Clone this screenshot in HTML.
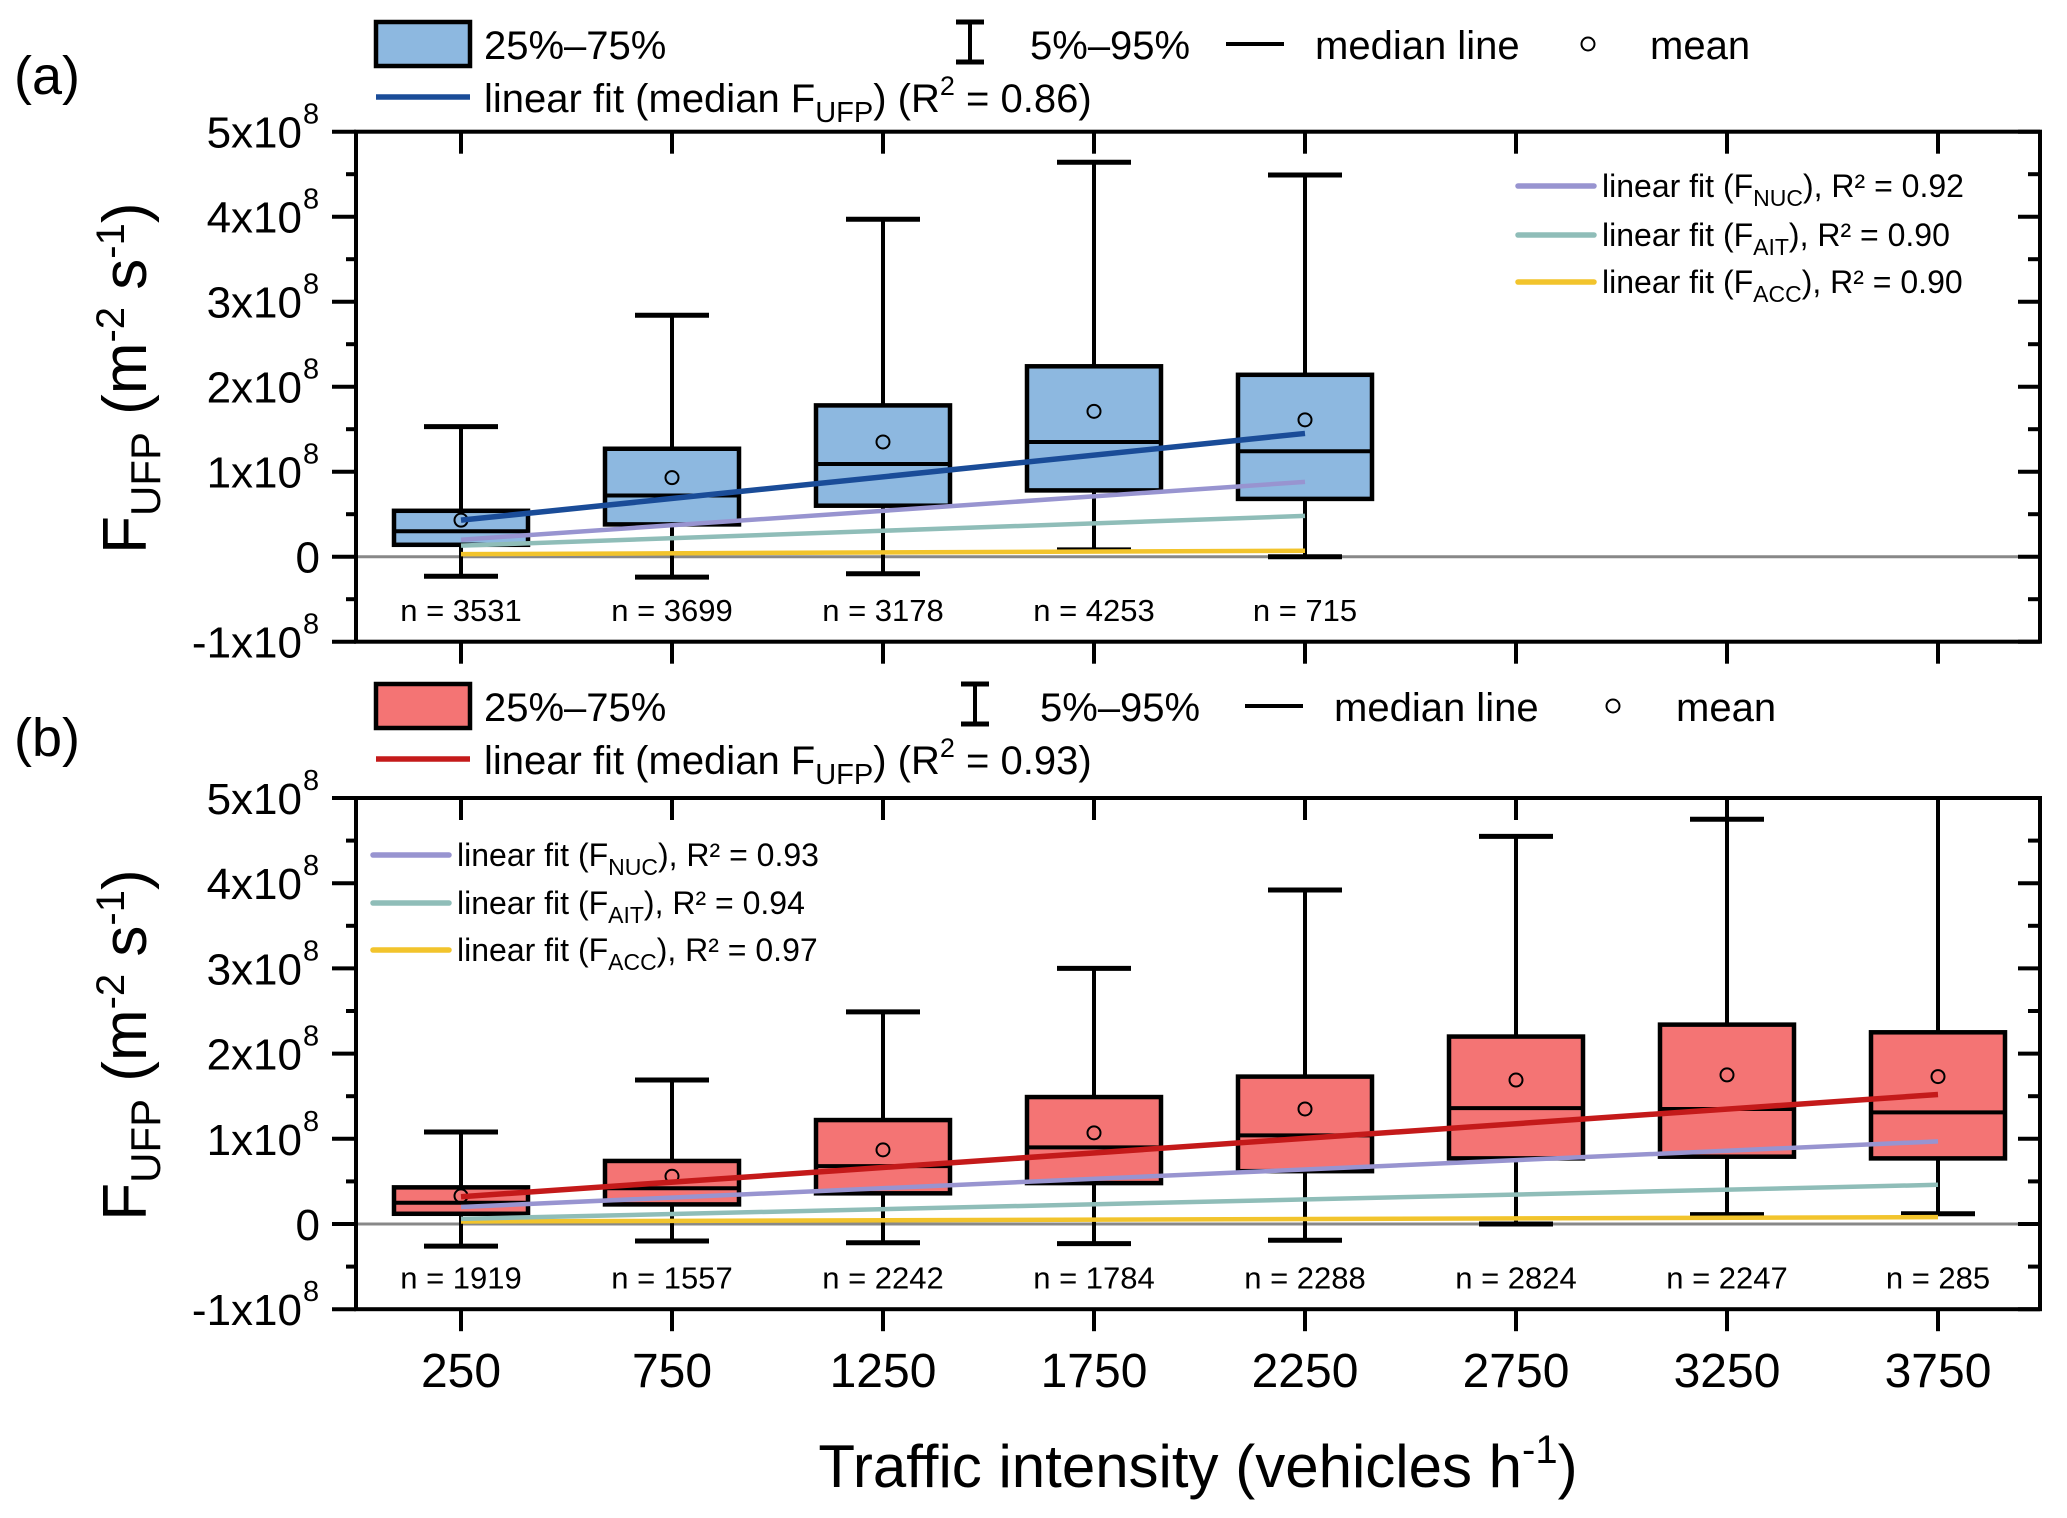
<!DOCTYPE html>
<html><head><meta charset="utf-8"><title>F_UFP vs traffic intensity</title>
<style>
html,body{margin:0;padding:0;background:#fff;}
svg{display:block;font-family:"Liberation Sans",sans-serif;}
</style></head>
<body>
<svg id="chart" width="2067" height="1518" viewBox="0 0 2067 1518" xmlns="http://www.w3.org/2000/svg">
<defs>
<clipPath id="clipA"><rect x="356" y="132" width="1684" height="511"/></clipPath>
<clipPath id="clipB"><rect x="356" y="798" width="1684" height="511"/></clipPath>
</defs>
<g id="root"></g>
</svg>
<script>
// ---- data ----
const categories = [250, 750, 1250, 1750, 2250, 2750, 3250, 3750];
const yTicks = [-1, 0, 1, 2, 3, 4, 5];
const yTickLabels = ["-1x10", "0", "1x10", "2x10", "3x10", "4x10", "5x10"];
// panel a (units of 1e8)
const aLow = [-0.23, -0.24, -0.20, 0.08, 0.0];
const aQ1 = [0.14, 0.38, 0.60, 0.78, 0.68];
const aMed = [0.30, 0.72, 1.09, 1.35, 1.24];
const aQ3 = [0.54, 1.27, 1.78, 2.24, 2.14];
const aHigh = [1.53, 2.84, 3.97, 4.64, 4.49];
const aMean = [0.43, 0.93, 1.35, 1.71, 1.61];
const aN = ["3531", "3699", "3178", "4253", "715"];
const aFitMedian = [0.43, 1.45];
const aFitNuc = [0.20, 0.88];
const aFitAit = [0.13, 0.48];
const aFitAcc = [0.03, 0.07];
// panel b
const bLow = [-0.26, -0.20, -0.22, -0.23, -0.19, 0.0, 0.11, 0.12];
const bQ1 = [0.12, 0.23, 0.36, 0.48, 0.62, 0.77, 0.79, 0.77];
const bMed = [0.25, 0.42, 0.68, 0.90, 1.04, 1.36, 1.35, 1.31];
const bQ3 = [0.43, 0.74, 1.22, 1.49, 1.73, 2.20, 2.34, 2.25];
const bHigh = [1.08, 1.69, 2.49, 3.00, 3.92, 4.55, 4.75, 5.30];
const bMean = [0.33, 0.56, 0.87, 1.07, 1.35, 1.69, 1.75, 1.73];
const bN = ["1919", "1557", "2242", "1784", "2288", "2824", "2247", "285"];
const bFitMedian = [0.32, 1.52];
const bFitNuc = [0.20, 0.97];
const bFitAit = [0.06, 0.46];
const bFitAcc = [0.03, 0.08];

// ---- layout ----
const NS = "http://www.w3.org/2000/svg";
const root = document.getElementById('root');
const L = 356, R = 2040;
function xScale(v){ return 461 + (v - 250) * 211 / 500; }
function mk(tag, attrs, parent, text){
  const e = document.createElementNS(NS, tag);
  for (const k in attrs) e.setAttribute(k, attrs[k]);
  if (text !== undefined) e.textContent = text;
  (parent || root).appendChild(e);
  return e;
}

function panel(cfg){
  const yS = v => cfg.zero - v * cfg.unit;
  const top = yS(5), bot = yS(-1);
  const g = mk('g', {});
  
  

  const zl = mk('line', {x1:L, x2:R, y1:yS(0), y2:yS(0), stroke:'#888', 'stroke-width':3}, g);
  
  

  const marks = mk('g', {'clip-path': 'url(#' + cfg.clip + ')'}, g);
  const n = cfg.med.length;
  for (let i = 0; i < n; i++){
    const cx = xScale(categories[i]);
    const bg = mk('g', {}, marks);
    
    
    mk('line', {x1:cx, x2:cx, y1:yS(cfg.high[i]), y2:yS(cfg.low[i]), stroke:'#000', 'stroke-width':4}, bg);
    mk('line', {x1:cx-37, x2:cx+37, y1:yS(cfg.high[i]), y2:yS(cfg.high[i]), stroke:'#000', 'stroke-width':5}, bg);
    mk('line', {x1:cx-37, x2:cx+37, y1:yS(cfg.low[i]), y2:yS(cfg.low[i]), stroke:'#000', 'stroke-width':5}, bg);
    mk('rect', {x:cx-67, y:yS(cfg.q3[i]), width:134, height:yS(cfg.q1[i]) - yS(cfg.q3[i]), fill:cfg.fill, stroke:'#000', 'stroke-width':4.5}, bg);
    mk('line', {x1:cx-67, x2:cx+67, y1:yS(cfg.med[i]), y2:yS(cfg.med[i]), stroke:'#000', 'stroke-width':4}, bg);
    mk('circle', {cx:cx, cy:yS(cfg.mean[i]), r:6.5, fill:'none', stroke:'#000', 'stroke-width':2}, bg);
  }
  const lastX = categories[n-1];
  const fits = [[cfg.fitAcc,'#f2c42c','fit-acc'],[cfg.fitAit,'#8fbdb8','fit-ait'],[cfg.fitNuc,'#9894d0','fit-nuc'],[cfg.fitMed,cfg.fitColor,'fit-median']];
  fits.forEach(f => {
    const ln = mk('line', {x1:xScale(250), x2:xScale(lastX), y1:yS(f[0][0]), y2:yS(f[0][1]), stroke:f[1], 'stroke-width': f[2]==='fit-median'?5.5:4.5}, marks);
    
    
  });
  for (let i = 0; i < n; i++){
    const t = mk('text', {x:xScale(categories[i]), y:yS(-0.66), 'font-size':31, 'text-anchor':'middle', 'dominant-baseline':'middle'}, g, 'n = ' + cfg.nLab[i]);
    
    
  }
  const fr = mk('rect', {x:L, y:top, width:R-L, height:bot-top, fill:'none', stroke:'#000', 'stroke-width':4}, g);
  
  
  yTicks.forEach((v, k) => {
    const y = yS(v);
    mk('line', {x1:L-24, x2:L, y1:y, y2:y, stroke:'#000', 'stroke-width':4}, g);
    mk('line', {x1:R-22, x2:R, y1:y, y2:y, stroke:'#000', 'stroke-width':4}, g);
    if (k < yTicks.length - 1){
      const ym = yS(v + 0.5);
      mk('line', {x1:L-10, x2:L, y1:ym, y2:ym, stroke:'#000', 'stroke-width':4}, g);
      mk('line', {x1:R-12, x2:R, y1:ym, y2:ym, stroke:'#000', 'stroke-width':4}, g);
    }
    const t = mk('text', {x:v===0?320:302, y:y+16, 'font-size':44, 'text-anchor':'end'}, g, yTickLabels[k]);
    
    
    if (v !== 0){
      mk('text', {x:303, y:y-8, 'font-size':29}, g, '8');
    }
  });
  categories.forEach(c => {
    const x = xScale(c);
    mk('line', {x1:x, x2:x, y1:top, y2:top+22, stroke:'#000', 'stroke-width':4}, g);
    mk('line', {x1:x, x2:x, y1:bot, y2:bot+22, stroke:'#000', 'stroke-width':4}, g);
  });
  const yt = mk('text', {transform:'translate(146,' + yS(2.1) + ') rotate(-90)', 'font-size':62, 'text-anchor':'middle'}, g);
  
  
  yt.innerHTML = 'F<tspan font-size="42" dy="14">UFP</tspan><tspan dy="-14"> (m</tspan><tspan font-size="40" dy="-22">-2</tspan><tspan dy="22"> s</tspan><tspan font-size="40" dy="-22">-1</tspan><tspan dy="22">)</tspan>';
  return yS;
}

panel({name:'panel-a', zero:556.7, unit:85, clip:'clipA', fill:'#8db8e0', fitColor:'#1a4c98',
  low:aLow, q1:aQ1, med:aMed, q3:aQ3, high:aHigh, mean:aMean, nLab:aN,
  fitMed:aFitMedian, fitNuc:aFitNuc, fitAit:aFitAit, fitAcc:aFitAcc});
panel({name:'panel-b', zero:1224, unit:85.2, clip:'clipB', fill:'#f47474', fitColor:'#c41a1a',
  low:bLow, q1:bQ1, med:bMed, q3:bQ3, high:bHigh, mean:bMean, nLab:bN,
  fitMed:bFitMedian, fitNuc:bFitNuc, fitAit:bFitAit, fitAcc:bFitAcc});

categories.forEach(c => {
  const t = mk('text', {x:xScale(c), y:1387, 'font-size':48, 'text-anchor':'middle'}, root, String(c));
  
  
});
const xt = mk('text', {x:1198, y:1487, 'font-size':60, 'text-anchor':'middle'});


xt.innerHTML = 'Traffic intensity (vehicles h<tspan font-size="40" dy="-24">-1</tspan><tspan dy="24">)</tspan>';

function topLegend(y0, fill, fitColor, r2, label, name, xs){
  const g = mk('g', {});
  
  
  mk('text', {x:14, y:y0+72, 'font-size':54}, g, label);
  mk('rect', {x:376, y:y0, width:94, height:44, fill:fill, stroke:'#000', 'stroke-width':4.5}, g);
  mk('text', {x:484, y:y0+37, 'font-size':40}, g, '25%\u201375%');
  const wx = xs[0];
  mk('line', {x1:wx, x2:wx, y1:y0, y2:y0+40, stroke:'#000', 'stroke-width':4}, g);
  mk('line', {x1:wx-14, x2:wx+14, y1:y0, y2:y0, stroke:'#000', 'stroke-width':5}, g);
  mk('line', {x1:wx-14, x2:wx+14, y1:y0+40, y2:y0+40, stroke:'#000', 'stroke-width':5}, g);
  mk('text', {x:xs[1], y:y0+37, 'font-size':40}, g, '5%\u201395%');
  mk('line', {x1:xs[2], x2:xs[2]+58, y1:y0+22, y2:y0+22, stroke:'#000', 'stroke-width':4}, g);
  mk('text', {x:xs[3], y:y0+37, 'font-size':40}, g, 'median line');
  mk('circle', {cx:xs[4], cy:y0+22, r:6.5, fill:'none', stroke:'#000', 'stroke-width':2}, g);
  mk('text', {x:xs[5], y:y0+37, 'font-size':40}, g, 'mean');
  mk('line', {x1:376, x2:470, y1:y0+75, y2:y0+75, stroke:fitColor, 'stroke-width':5.5}, g);
  const t = mk('text', {x:484, y:y0+90, 'font-size':40}, g);
  t.innerHTML = 'linear fit (median F<tspan font-size="29" dy="10">UFP</tspan><tspan dy="-10">) (R</tspan><tspan font-size="27" dy="-17">2</tspan><tspan dy="17"> = ' + r2 + ')</tspan>';
}
topLegend(22, '#8db8e0', '#1a4c98', '0.86', '(a)', 'legend-a', [970, 1030, 1226, 1315, 1588, 1650]);
topLegend(684, '#f47474', '#c41a1a', '0.93', '(b)', 'legend-b', [975, 1040, 1245, 1334, 1613, 1676]);

function innerLegend(x, ys, r2s, name){
  const g = mk('g', {});
  
  
  const cols = ['#9894d0', '#8fbdb8', '#f2c42c'];
  const subs = ['NUC', 'AIT', 'ACC'];
  for (let i = 0; i < 3; i++){
    mk('line', {x1:x, x2:x+76, y1:ys[i], y2:ys[i], stroke:cols[i], 'stroke-width':5.5, 'stroke-linecap':'round'}, g);
    const t = mk('text', {x:x+84, y:ys[i]+11, 'font-size':32}, g);
    t.innerHTML = 'linear fit (F<tspan font-size="23" dy="9">' + subs[i] + '</tspan><tspan dy="-9">), R\u00b2 = ' + r2s[i] + '</tspan>';
  }
}
innerLegend(1518, [186, 235, 282], ['0.92', '0.90', '0.90'], 'inner-legend-a');
innerLegend(373, [855, 903, 950], ['0.93', '0.94', '0.97'], 'inner-legend-b');
</script>
</body></html>
